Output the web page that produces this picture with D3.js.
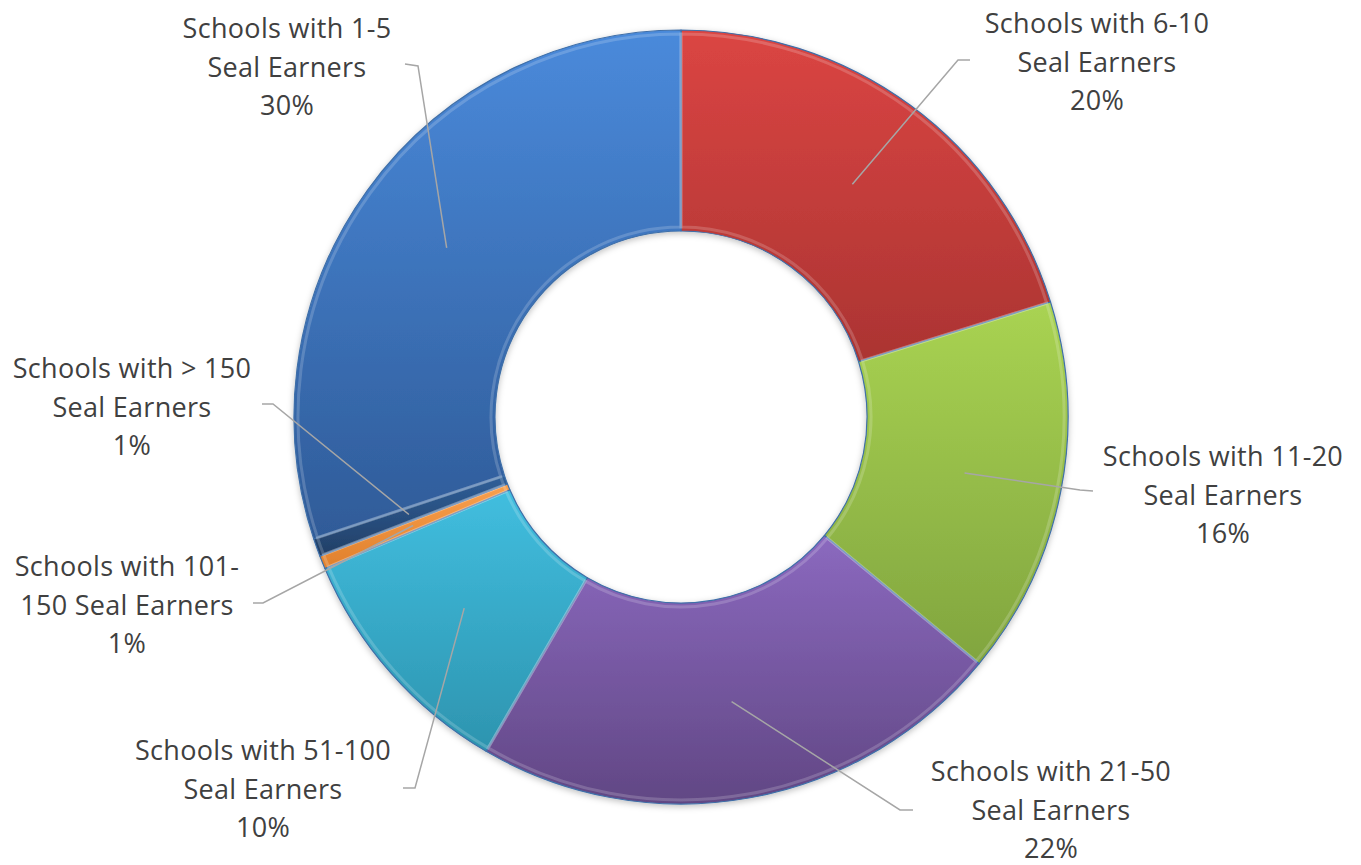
<!DOCTYPE html>
<html><head><meta charset="utf-8">
<script src="https://cdn.jsdelivr.net/npm/d3@7"></script>
<style>html,body{margin:0;padding:0;background:#fff;}svg{display:block;}</style>
</head><body>
<svg id="chart" width="1361" height="865"></svg>
<script>
const categories = ["Schools with 6-10 Seal Earners","Schools with 11-20 Seal Earners","Schools with 21-50 Seal Earners","Schools with 51-100 Seal Earners","Schools with 101-150 Seal Earners","Schools with > 150 Seal Earners","Schools with 1-5 Seal Earners"];
const labelLines = [["Schools with 6-10","Seal Earners"],["Schools with 11-20","Seal Earners"],["Schools with 21-50","Seal Earners"],["Schools with 51-100","Seal Earners"],["Schools with 101-","150 Seal Earners"],["Schools with > 150","Seal Earners"],["Schools with 1-5","Seal Earners"]];
const values = [20.2, 15.8, 22.4, 10.2, 0.55, 0.75, 30.1];
const percentLabels = ["20%","16%","22%","10%","1%","1%","30%"];
const colorsTop = ["#DB4543","#A9D352","#8B69BF","#41BEDF","#F9A04E","#2F5F99","#4A8ADB"];
const colorsBottom = ["#AB3432","#81A53F","#614784","#2D94AF","#E0802C","#223F66","#2F5B98"];

// layout: label text centre x, first-line y, and leader start/elbow points
const labelLayout = [
  {x:1097, y:22, p0:[970,60], p1:[958,60]},
  {x:1223, y:455, p0:[1093,491], p1:[1080,490]},
  {x:1051, y:770, p0:[913,810], p1:[900,810]},
  {x:263, y:749, p0:[403,788], p1:[415,788]},
  {x:127, y:565, p0:[253,603], p1:[263,603]},
  {x:132, y:367, p0:[262,404], p1:[273,404]},
  {x:287, y:27, p0:[405,64], p1:[418,66]}
];

const svg = d3.select("#chart");
const cx = 681, cy = 417, rOuter = 387, rInner = 186, rLeader = 289;
const defs = svg.append("defs");
colorsTop.forEach((c,i)=>{
  const g = defs.append("linearGradient").attr("id","g"+i).attr("x1",0).attr("y1",0).attr("x2",0).attr("y2",1);
  g.append("stop").attr("offset","0%").attr("stop-color",c);
  g.append("stop").attr("offset","100%").attr("stop-color",colorsBottom[i]);
});
const f = defs.append("filter").attr("id","sh").attr("x","-10%").attr("y","-10%").attr("width","120%").attr("height","120%");
f.append("feDropShadow").attr("dx",0).attr("dy",2).attr("stdDeviation",3).attr("flood-color","#000").attr("flood-opacity",0.25);

const pie = d3.pie().sort(null).value(d=>d).startAngle(0).endAngle(2*Math.PI);
const arcs = pie(values);
const arc = d3.arc().innerRadius(rInner).outerRadius(rOuter);
const arcIn = d3.arc().innerRadius(rInner+4).outerRadius(rOuter-4);
const g = svg.append("g").attr("transform",`translate(${cx},${cy})`);
const ring = g.append("g").attr("filter","url(#sh)");
ring.selectAll("path.s").data(arcs).join("path").attr("class","s")
  .attr("d",arc).attr("fill",(d,i)=>`url(#g${i})`)
  .attr("stroke","#3F6FA8").attr("stroke-width",1.2).attr("stroke-linejoin","round");
// subtle bevel highlight
g.selectAll("path.b").data(arcs).join("path").attr("class","b")
  .attr("d",arcIn).attr("fill","none").attr("stroke","rgba(255,255,255,0.18)").attr("stroke-width",3);

// leader lines
const pts = arcs.map(d=>{const a=(d.startAngle+d.endAngle)/2; return [cx+rLeader*Math.sin(a), cy-rLeader*Math.cos(a)];});
svg.append("g").selectAll("path").data(labelLayout).join("path")
  .attr("d",(d,i)=>d3.line()([d.p0,d.p1,pts[i]]))
  .attr("fill","none").attr("stroke","#A6A6A6").attr("stroke-width",1.5);

// labels
const lg = svg.append("g").attr("font-family","'Open Sans', Lato, sans-serif").attr("font-size",27).attr("letter-spacing",0.3).attr("fill","#404040").attr("text-anchor","middle");
labelLayout.forEach((L,i)=>{
  const t = lg.append("text").attr("x",L.x).attr("y",L.y).attr("dominant-baseline","central");
  const lines = labelLines[i].concat([percentLabels[i]]);
  lines.forEach((s,j)=>t.append("tspan").attr("x",L.x).attr("y",L.y+j*38.5).text(s));
});
</script>
</body></html>
